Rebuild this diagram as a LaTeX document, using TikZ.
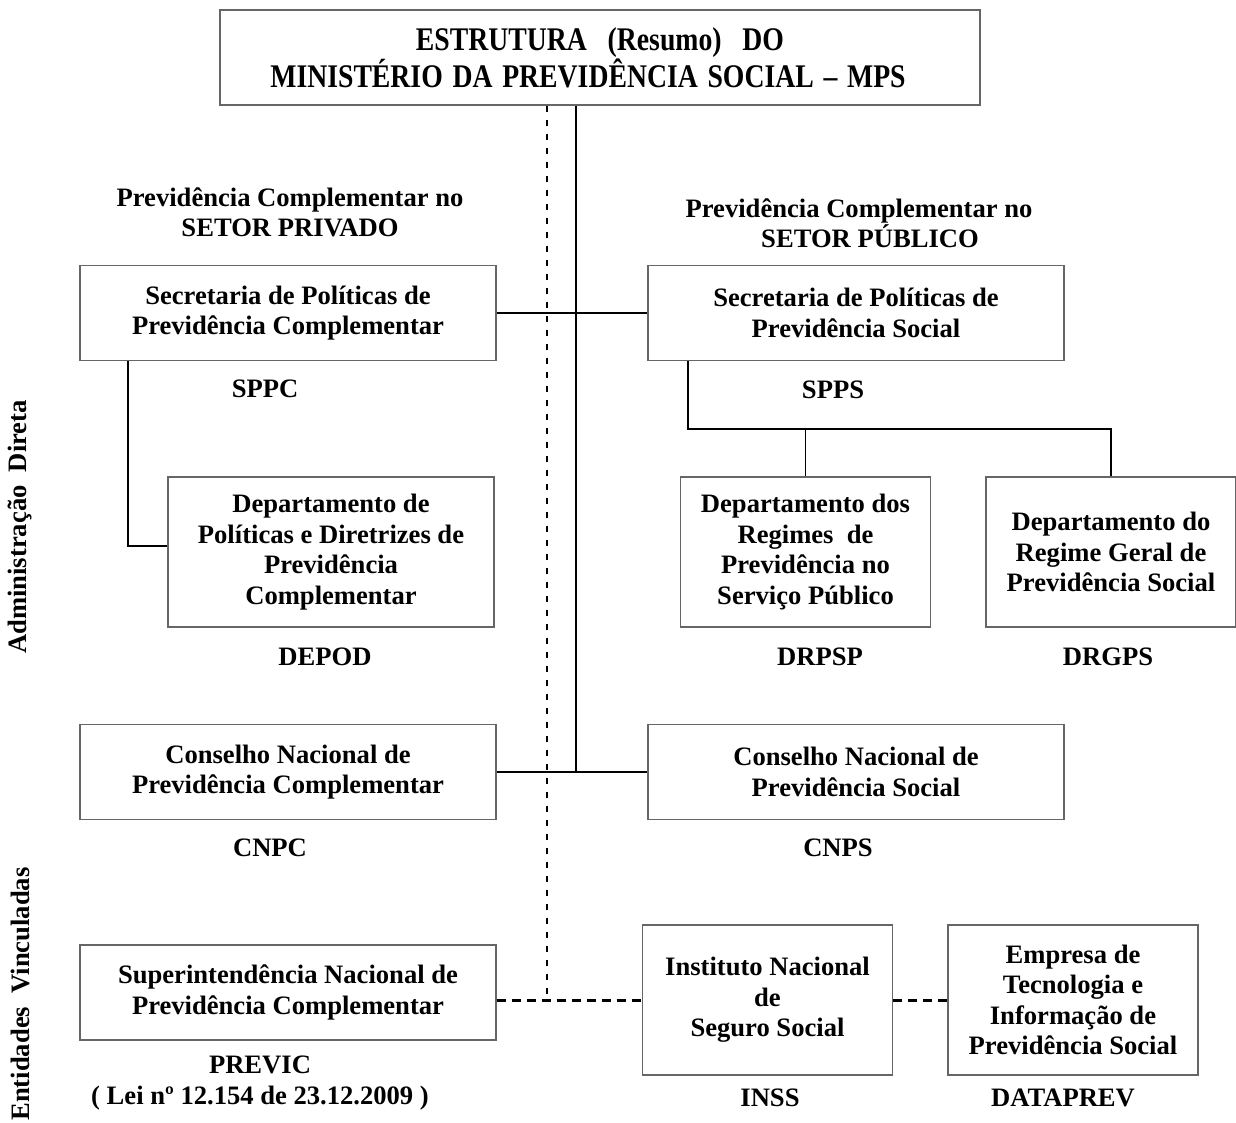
\documentclass[tikz,border=0pt]{standalone}
\usepackage{fontspec}
\setmainfont{Liberation Serif}
\usepackage{graphicx}

\newcommand{\ttlline}[1]{\scalebox{0.84}[1]{#1}}

\tikzset{
	orgbox/.style={draw=black!60, line width=1.3pt, align=center, inner sep=0pt},
	wide/.style={minimum width=416pt, minimum height=95pt},
	tall/.style={minimum width=250pt, minimum height=150pt},
	lbl/.style={align=center, inner sep=0pt},
	link/.style={line width=1.8pt},
	dotlink/.style={line width=1.5pt, dash pattern=on 6pt off 8pt},
	dashlink/.style={line width=3pt, dash pattern=on 9pt off 6pt}
}

\begin{document}
\begin{tikzpicture}[x=1pt, y=-1pt, font=\fontsize{26.6}{30.5}\selectfont\bfseries]
	\useasboundingbox (0,0) rectangle (1236,1122);

	\coordinate (trunk) at (576,0);
	\coordinate (dots) at (547,0);
	\coordinate (bus) at (0,429);
	\coordinate (rgt) at (688,0);
	\coordinate (elbow) at (128,546);

	\node[orgbox, minimum width=760pt, minimum height=95pt, font=\fontsize{33}{35}\selectfont\bfseries] (mps) at (600,57.5)
		{\ttlline{ESTRUTURA\hspace{0.75em}(Resumo)\hspace{0.75em}DO}\\\ttlline{MINISTÉRIO\hspace{0.35em}DA\hspace{0.35em}PREVIDÊNCIA\hspace{0.35em}SOCIAL\hspace{0.35em}–\hspace{0.35em}MPS}\hspace*{24pt}};

	\node[lbl] (hdrpriv) at (290,212.5) {Previdência Complementar no\\SETOR PRIVADO};
	\node[lbl] (hdrpub) at (859,223) {Previdência Complementar no\\\hspace*{22pt}SETOR PÚBLICO};

	\node[orgbox, wide] (sppc) at (288,313) {Secretaria de Políticas de\\Previdência Complementar};
	\node[orgbox, wide] (spps) at (856,313) {Secretaria de Políticas de\\Previdência Social};
	\node[lbl] (sppcname) at (265,389) {SPPC};
	\node[lbl] (sppsname) at (833,390) {SPPS};

	\node[orgbox, minimum width=326pt, minimum height=150pt] (depod) at (331,552) {Departamento de\\Políticas e Diretrizes de\\Previdência\\Complementar};
	\node[orgbox, tall] (drpsp) at (805.5,552) {Departamento dos\\Regimes\ \ de\\Previdência no\\Serviço Público};
	\node[orgbox, tall] (drgps) at (1111,552) {Departamento do\\Regime Geral de\\Previdência Social};
	\node[lbl] (depodname) at (325,657) {DEPOD};
	\node[lbl] (drpspname) at (820,657) {DRPSP};
	\node[lbl] (drgpsname) at (1108,657) {DRGPS};

	\node[orgbox, wide] (cnpc) at (288,772) {Conselho Nacional de\\Previdência Complementar};
	\node[orgbox, wide] (cnps) at (856,772) {Conselho Nacional de\\Previdência Social};
	\node[lbl] (cnpcname) at (270,848) {CNPC};
	\node[lbl] (cnpsname) at (838,848) {CNPS};

	\node[orgbox, wide] (previc) at (288,992.5) {Superintendência Nacional de\\Previdência Complementar};
	\node[orgbox, tall] (inss) at (767.5,1000) {Instituto Nacional\\de\\Seguro Social};
	\node[orgbox, tall] (dataprev) at (1073,1000) {Empresa de\\Tecnologia e\\Informação de\\Previdência Social};
	\node[lbl] (previcname) at (260,1083) {PREVIC\\( Lei nº 12.154 de 23.12.2009 )};
	\node[lbl] (inssname) at (770,1098) {INSS};
	\node[lbl] (dataprevname) at (1063,1098) {DATAPREV};

	\node[lbl, rotate=90] (adm) at (20,527) {Administração\ \ Direta};
	\node[lbl, rotate=90] (ent) at (20,994) {Entidades\ \ Vinculadas};

	\draw[dotlink] (mps.south -| dots) -- (dots |- inss.west);
	\draw[link] (mps.south -| trunk) -- (trunk |- cnpc.east);
	\draw[link] (sppc) -- (spps);
	\draw[link] (cnpc) -- (cnps);
	\draw[link] (sppc.south -| elbow) -- (elbow) -- (elbow -| depod.west);
	\draw[link] (spps.south -| rgt) |- (drgps.north |- bus) -- (drgps.north);
	\draw[link] (drpsp.north |- bus) -- (drpsp.north);
	\draw[dashlink] (previc.east |- inss.west) -- (inss.west);
	\draw[dashlink] (inss) -- (dataprev);

\end{tikzpicture}
\end{document}
